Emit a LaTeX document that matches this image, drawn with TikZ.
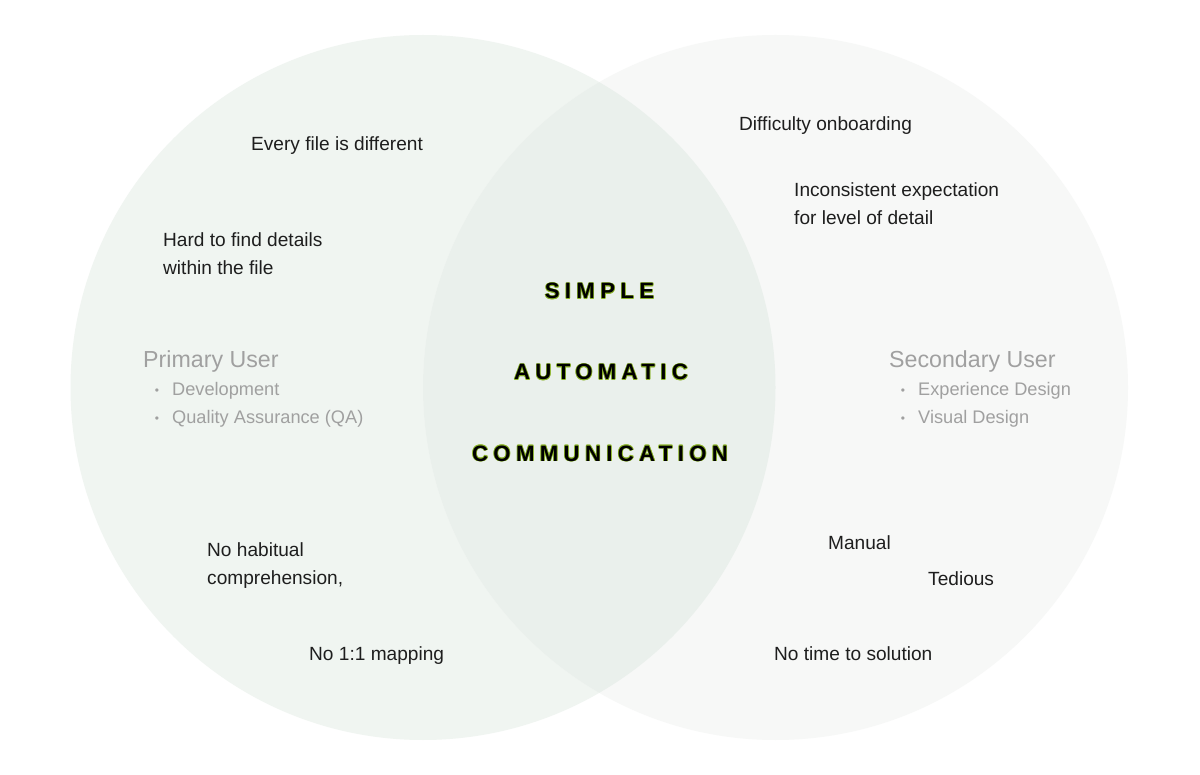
\documentclass[tikz,border=0pt]{standalone}
\usepackage{fontspec}
\setmainfont{Liberation Sans}
\newfontfamily\spacedbold[LetterSpace=24]{Liberation Sans}
\definecolor{leftfill}{RGB}{240,245,241}
\definecolor{rightfill}{RGB}{247,248,247}
\definecolor{midfill}{RGB}{234,240,236}
\definecolor{bodytext}{RGB}{30,30,30}
\definecolor{graytext}{RGB}{160,160,160}
\definecolor{glow}{RGB}{140,180,40}
\tikzset{
  body/.style={anchor=base west, inner sep=0pt, text=bodytext, font=\fontsize{19.1}{28}\selectfont},
  usertitle/.style={anchor=base west, inner sep=0pt, text=graytext, font=\fontsize{23.2}{28}\selectfont},
  useritem/.style={anchor=base west, inner sep=0pt, text=graytext, font=\fontsize{18.2}{28}\selectfont},
  bul/.style={anchor=base, inner sep=0pt, text=graytext, font=\fontsize{12}{14}\selectfont},
  keyglow/.style={anchor=base, inner sep=0pt, text=glow, font=\spacedbold\bfseries\fontsize{22.2}{24}\selectfont},
  keyword/.style={anchor=base, inner sep=0pt, text=black, font=\spacedbold\bfseries\fontsize{22.2}{24}\selectfont}
}
\newcommand{\glowword}[3]{%
  \foreach \dx/\dy in {0.7/0,-0.7/0,0/0.7,0/-0.7,0.5/0.5,-0.5/0.5,0.5/-0.5,-0.5/-0.5}{
    \node[keyglow] at ([xshift=\dx pt,yshift=\dy pt]#2) {#3};
  }
  \node[keyword] (#1) at (#2) {#3};
}
\begin{document}
\begin{tikzpicture}[x=1pt,y=-1pt]
\useasboundingbox (0,0) rectangle (1200,775);
\fill[white] (0,0) rectangle (1200,775);
% circles
\fill[leftfill] (423,387.5) circle[radius=352.5];
\fill[rightfill] (775.5,387.5) circle[radius=352.5];
\begin{scope}
  \clip (423,387.5) circle[radius=352.5];
  \fill[midfill] (775.5,387.5) circle[radius=352.5];
\end{scope}
% left texts
\node[body] (every) at (251,151) {Every file is different};
\node[body] (hard1) at (163,247) {Hard to find details};
\node[body] (hard2) at (163,275) {within the file};
\node[body] (habit1) at (207,556.5) {No habitual};
\node[body] (habit2) at (207,584.5) {comprehension,};
\node[body] (map) at (309,660.5) {No 1:1 mapping};
% right texts
\node[body] (onboard) at (739,131) {Difficulty onboarding};
\node[body] (incons1) at (794,197) {Inconsistent expectation};
\node[body] (incons2) at (794,225) {for level of detail};
\node[body] (manual) at (828,549.5) {Manual};
\node[body] (tedious) at (928,585.5) {Tedious};
\node[body] (notime) at (774,660.5) {No time to solution};
% users
\node[usertitle] (primary) at (143,367.5) {Primary User};
\node[bul] (pb1) at (157,395) {•};
\node[useritem] (dev) at (172,395.5) {Development};
\node[bul] (pb2) at (157,423) {•};
\node[useritem] (qa) at (172,423.5) {Quality Assurance (QA)};
\node[usertitle] (secondary) at (889,367.5) {Secondary User};
\node[bul] (sb1) at (903,395) {•};
\node[useritem] (xd) at (918,395.5) {Experience Design};
\node[bul] (sb2) at (903,423) {•};
\node[useritem] (vd) at (918,423.5) {Visual Design};
% center keywords
\coordinate (c1) at (599.5,299);
\coordinate (c2) at (601,380);
\coordinate (c3) at (600,461);
\glowword{simple}{c1}{SIMPLE}
\glowword{automatic}{c2}{AUTOMATIC}
\glowword{communication}{c3}{COMMUNICATION}
\end{tikzpicture}
\end{document}
